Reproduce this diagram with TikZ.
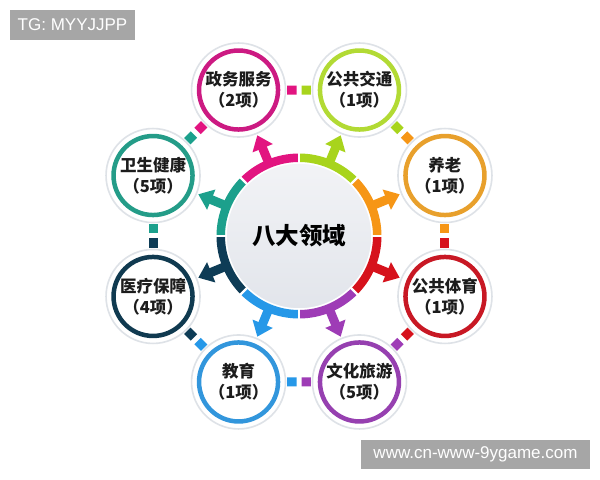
\documentclass[tikz,border=0pt]{standalone}
\usepackage{fontspec}
\newfontfamily\cjk{Noto Sans CJK SC}
\newfontfamily\wmfont{Liberation Sans}
\usetikzlibrary{arrows.meta,calc}
\definecolor{cmag}{RGB}{226,20,128}
\definecolor{clime}{RGB}{168,212,28}
\definecolor{corange}{RGB}{246,150,22}
\definecolor{cred}{RGB}{214,18,28}
\definecolor{cpurple}{RGB}{158,60,182}
\definecolor{cblue}{RGB}{38,152,232}
\definecolor{cnavy}{RGB}{14,60,86}
\definecolor{cteal}{RGB}{28,160,140}
\definecolor{rmag}{RGB}{204,26,130}
\definecolor{rlime}{RGB}{178,218,52}
\definecolor{rorange}{RGB}{232,160,44}
\definecolor{rred}{RGB}{200,24,36}
\definecolor{rpurple}{RGB}{150,64,176}
\definecolor{rblue}{RGB}{50,150,220}
\definecolor{rnavy}{RGB}{16,58,80}
\definecolor{rteal}{RGB}{36,156,136}
\definecolor{leafedge}{RGB}{222,226,231}
\definecolor{hubtop}{RGB}{242,243,246}
\definecolor{hubbot}{RGB}{226,229,235}
\definecolor{txt}{RGB}{28,28,28}
\definecolor{wmgray}{RGB}{166,166,166}
\tikzset{
  leaf/.style={circle, minimum size=94bp, inner sep=0pt, outer sep=0pt,
    fill=white, draw=leafedge, line width=1.6bp, align=center, text=txt,
    font=\cjk\bfseries\fontsize{16.5bp}{21bp}\selectfont,
    path picture={\draw[#1, line width=4.5bp] (path picture bounding box.center) circle[radius=39.5bp];}},
  hubstyle/.style={circle, minimum size=146bp, inner sep=0pt, outer sep=0pt,
    top color=hubtop, bottom color=hubbot, draw=white, line width=1.5bp},
  spoke/.style={line width=9bp, -{Triangle[length=14bp, width=21bp]},
    shorten >=2bp, shorten <=3bp},
  linkpart/.style={line width=9bp, shorten <=1.5bp, shorten >=2.5bp},
  wm/.style={fill=wmgray, text=white, inner sep=0pt,
    font=\wmfont\fontsize{17bp}{17bp}\selectfont},
}
\begin{document}
\begin{tikzpicture}[x=1bp,y=1bp]
\useasboundingbox (0,0) rectangle (600,480);
\fill[white] (0,0) rectangle (600,480);
\coordinate (C) at (299,244);
% outer nodes
\node[leaf=rmag]    (zw) at ($(C)+(112.5:158)$) {政务服务\\（2项）};
\node[leaf=rlime]   (gj) at ($(C)+(67.5:158)$)  {公共交通\\（1项）};
\node[leaf=rorange] (yl) at ($(C)+(22.5:158)$)  {养老\\（1项）};
\node[leaf=rred]    (ty) at ($(C)+(-22.5:158)$) {公共体育\\（1项）};
\node[leaf=rpurple] (wh) at ($(C)+(-67.5:158)$) {文化旅游\\（5项）};
\node[leaf=rblue]   (jy) at ($(C)+(-112.5:158)$) {教育\\（1项）};
\node[leaf=rnavy]   (yb) at ($(C)+(-157.5:158)$) {医疗保障\\（4项）};
\node[leaf=rteal]   (ws) at ($(C)+(157.5:158)$) {卫生健康\\（5项）};
% links between neighbouring circles
\foreach \p/\q/\cp/\cq in {zw/gj/cmag/clime, gj/yl/clime/corange, yl/ty/corange/cred,
  ty/wh/cred/cpurple, wh/jy/cpurple/cblue, jy/yb/cblue/cnavy, yb/ws/cnavy/cteal, ws/zw/cteal/cmag}{
  \coordinate (m\p\q) at ($(\p)!0.5!(\q)$);
  \draw[linkpart, \cp] (\p) -- (m\p\q);
  \draw[linkpart, \cq] (\q) -- (m\p\q);
}
% hub
\node[hubstyle] (hub) at (C) {};
% spokes
\foreach \n/\c in {zw/cmag, gj/clime, yl/corange, ty/cred, wh/cpurple, jy/cblue, yb/cnavy, ws/cteal}{
  \draw[spoke, \c] (hub) -- (\n);
}
% ring segments
\foreach \a/\c in {112.5/cmag, 67.5/clime, 22.5/corange, -22.5/cred, -67.5/cpurple, -112.5/cblue, -157.5/cnavy, 157.5/cteal}{
  \fill[\c, shift={(C)}] (\a-22.5:82.5) arc[start angle=\a-22.5, delta angle=45, radius=82.5]
    -- (\a+22.5:74) arc[start angle=\a+22.5, delta angle=-45, radius=74] -- cycle;
}
\foreach \b in {0,45,...,315}{
  \draw[white, line width=2.2bp, shift={(C)}] (\b:72.5) -- (\b:84);
}
\node[font=\cjk\bfseries\fontsize{23.5bp}{23.5bp}\selectfont, text=black] (hubtext) at (hub) {八大领域};
% watermarks
\node[wm, minimum width=125bp, minimum height=30bp] (tg) at (72.5,455) {TG: MYYJJPP};
\node[wm, minimum width=229bp, minimum height=29bp] (site) at (475.5,25.5) {www.cn-www-9ygame.com};
\end{tikzpicture}
\end{document}
